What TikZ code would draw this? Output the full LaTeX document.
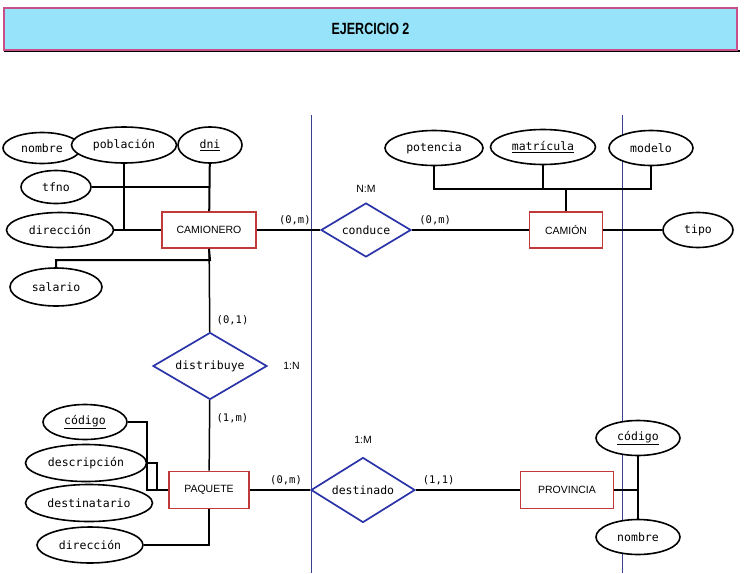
\documentclass[tikz,border=0pt]{standalone}
\usepackage{fontspec}
\setmainfont{Liberation Sans}
\newfontfamily\monofnt{DejaVu Sans Mono}
\usepackage{graphicx}
\usepackage{tikz}
\usetikzlibrary{shapes.geometric,calc,positioning}
\definecolor{bannerfill}{HTML}{96E3FA}
\definecolor{bannerline}{HTML}{C8508A}
\definecolor{entred}{HTML}{C03A3A}
\definecolor{relblue}{HTML}{2A34A8}
\definecolor{sepblue}{HTML}{3A4090}

\begin{document}
\begin{tikzpicture}[x=1pt, y=-1pt,
  entity/.style={draw=entred, line width=1.7pt, fill=white, inner sep=0pt,
    font=\fontsize{10.5}{12}\selectfont},
  rel/.style={draw=relblue, diamond, aspect=1.7, line width=1.7pt, fill=white, inner sep=0pt,
    font=\monofnt\fontsize{11.5}{13}\selectfont},
  attr/.style={draw, ellipse, line width=1.6pt, fill=white, inner sep=0pt,
    minimum height=35pt, font=\monofnt\fontsize{11.5}{13}\selectfont},
  card/.style={font=\monofnt\fontsize{10.5}{12}\selectfont},
  ratio/.style={font=\fontsize{10.5}{12}\selectfont},
  link/.style={line width=2pt},
  rlink/.style={line width=1.5pt},
  sep/.style={draw=sepblue, line width=0.9pt}
]
  \useasboundingbox (0,0) rectangle (744,573);
  % title banner
  \draw[line width=1.4pt] (4,51) -- (740,51);
  \node[draw=bannerline, fill=bannerfill, line width=1.6pt, minimum width=733pt,
    minimum height=42pt, font=\bfseries\fontsize{12.5}{14}\selectfont]
    (title) at (370.5,29) {\scalebox{1}[1.3]{EJERCICIO 2}};
  % separators
  \draw[sep] (311,115) -- (311,573);
  \draw[sep] (622,115) -- (622,573);

  \coordinate (salj) at (210,260);
  \coordinate (camj) at (566,189);
  \coordinate (paqj) at (147,490);
  \coordinate (paqk) at (157,490);

  % entities
  \node[entity, minimum width=94pt, minimum height=36pt] (camionero) at (209,230) {CAMIONERO};
  \node[entity, minimum width=73pt, minimum height=36pt] (camion) at (566,230) {CAMIÓN};
  \node[entity, minimum width=80pt, minimum height=37pt] (paquete) at (209,490) {PAQUETE};
  \node[entity, minimum width=93pt, minimum height=37pt] (provincia) at (567,490) {PROVINCIA};

  % relationships
  \node[rel, minimum width=90pt, minimum height=54pt] (conduce) at (366,230) {conduce};
  \node[rel, minimum width=114pt, minimum height=67pt] (distribuye) at (210,366) {distribuye};
  \node[rel, minimum width=104pt, minimum height=65pt] (destinado) at (363,490) {destinado};

  % attributes of CAMIONERO
  \node[attr, minimum width=78pt, minimum height=31pt] (nombre1) at (42,148) {nombre};
  \node[attr, minimum width=105pt, minimum height=36pt] (poblacion) at (124,145) {población};
  \node[attr, minimum width=64pt, minimum height=36pt] (dni) at (210,145) {\underline{dni}};
  \node[attr, minimum width=70pt, minimum height=33pt] (tfno) at (56,187) {tfno};
  \node[attr, minimum width=107pt] (direccion1) at (60,230) {dirección};
  \node[attr, minimum width=92pt, minimum height=38pt] (salario) at (56,287) {salario};

  % attributes of CAMION
  \node[attr, minimum width=98pt] (potencia) at (434,148) {potencia};
  \node[attr, minimum width=105pt] (matricula) at (543,147) {\underline{matrícula}};
  \node[attr, minimum width=84pt] (modelo) at (651,148) {modelo};
  \node[attr, minimum width=70pt] (tipo) at (698,230) {tipo};

  % attributes of PAQUETE
  \node[attr, minimum width=84pt] (codigo1) at (85,422) {\underline{código}};
  \node[attr, minimum width=121pt, minimum height=37pt] (descripcion) at (86,463) {descripción};
  \node[attr, minimum width=127pt, minimum height=37pt] (destinatario) at (89,503) {destinatario};
  \node[attr, minimum width=106pt, minimum height=36pt] (direccion2) at (90,545) {dirección};

  % attributes of PROVINCIA
  \node[attr, minimum width=84pt] (codigo2) at (638,438) {\underline{código}};
  \node[attr, minimum width=84pt] (nombre2) at (638,537) {nombre};

  % attribute links
  \draw[link] (dni) -- (camionero);
  \draw[link] (tfno.east) -- (tfno.east -| dni.south);
  \draw[link] (poblacion.south) |- (camionero.west);
  \draw[link] (direccion1) -- (camionero);
  \draw[link] (camionero.south) -- (salj) -| (salario.north);
  \draw[link] (potencia.south) |- (modelo.south |- camj) -- (modelo.south);
  \draw[link] (matricula.south) -- (matricula.south |- camj);
  \draw[link] (camj) -- (camion.north);
  \draw[rlink] (camion) -- (tipo);
  \draw[link] (codigo1.east) -| (paqj) -- (paquete.west);
  \draw[link] (descripcion.east) -| (paqk);
  \draw[link] (paquete.south) |- (direccion2.east);
  \draw[link] (codigo2) -- (nombre2);
  \draw[link] (provincia.east) -- (provincia.east -| codigo2.south);

  % relationship links
  \draw[rlink] (camionero) -- node[card, pos=0.86, right=3pt] {(0,1)} (distribuye);
  \draw[rlink] (camionero) -- node[card, pos=0.6, above=1pt] {(0,m)} (conduce);
  \draw[rlink] (conduce) -- node[card, pos=0.2, above=1pt] {(0,m)} (camion);
  \draw[rlink] (distribuye) -- node[card, pos=0.25, right=3pt] {(1,m)} (paquete);
  \draw[rlink] (paquete) -- node[card, pos=0.6, above=1pt] {(0,m)} (destinado);
  \draw[rlink] (destinado) -- node[card, pos=0.22, above=1pt] {(1,1)} (provincia);

  % cardinality ratios
  \node[ratio, above=6pt of conduce.north] (ratio1) {N:M};
  \node[ratio, right=12pt of distribuye.east] (ratio2) {1:N};
  \node[ratio, above=10pt of destinado.north] (ratio3) {1:M};
\end{tikzpicture}
\end{document}
